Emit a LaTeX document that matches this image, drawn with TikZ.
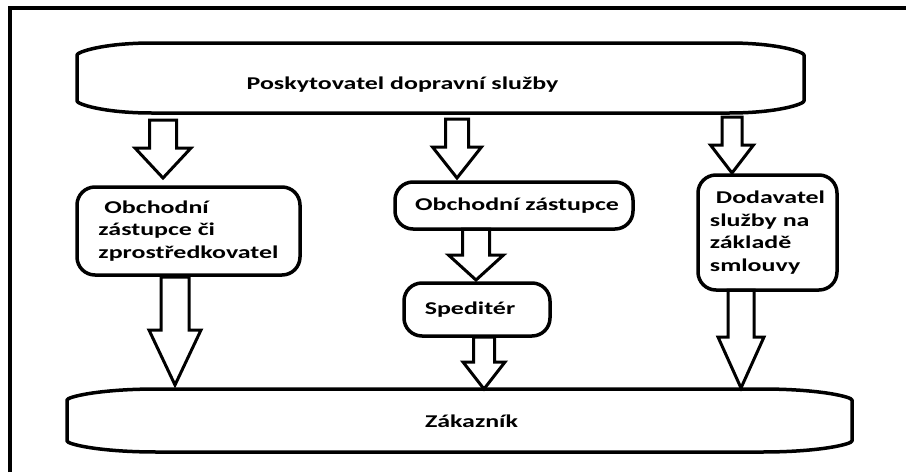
\documentclass[tikz,border=0pt]{standalone}
\usepackage{fontspec}
\setmainfont{Carlito}[FakeStretch=1.44]
\usetikzlibrary{calc}
\tikzset{
  boxline/.style={draw=black, line width=3.5pt, line join=round},
  rbox/.style={boxline, rounded corners=18pt, inner sep=0pt, outer sep=0pt, align=left},
  bowbox/.style={inner sep=0pt, outer sep=0pt},
  lbl/.style={inner sep=0pt, font=\diafont},
  barrow/.style n args={3}{draw=black, line width=3pt, line join=miter,
    to path={let \p1=(\tikztostart), \p2=(\tikztotarget) in
      ({\x1-#1pt},\y1) -- ({\x1-#1pt},{\y2+#3pt}) -- ({\x1-#2pt},{\y2+#3pt}) -- (\x2,\y2)
      -- ({\x1+#2pt},{\y2+#3pt}) -- ({\x1+#1pt},{\y2+#3pt}) -- ({\x1+#1pt},\y1) -- cycle}},
}
\newcommand\diafont{\bfseries\fontsize{18}{22.5}\selectfont}
\newcommand\bowoutline[3]{%
  \draw[boxline] let \p1=(#1.north west), \p2=(#1.south east) in
    (\x1,{\y1-#2pt-3pt}) -- (\x1,{\y2+#2pt+3pt})
    .. controls (\x1,{\y2+#2pt}) and ({\x1+0.35*#3pt},\y2) .. ({\x1+#3pt},\y2)
    -- ({\x2-#3pt},\y2)
    .. controls ({\x2-0.35*#3pt},\y2) and (\x2,{\y2+#2pt}) .. (\x2,{\y2+#2pt+3pt})
    -- (\x2,{\y1-#2pt-3pt})
    .. controls (\x2,{\y1-#2pt}) and ({\x2-0.35*#3pt},\y1) .. ({\x2-#3pt},\y1)
    -- ({\x1+#3pt},\y1)
    .. controls ({\x1+0.35*#3pt},\y1) and (\x1,{\y1-#2pt}) .. (\x1,{\y1-#2pt-3pt}) -- cycle;}
\begin{document}
\begin{tikzpicture}[x=1pt, y=-1pt, font=\diafont]
\useasboundingbox (0,0) rectangle (906,472);
% outer frame (only top and left edges visible)
\draw[line width=4.5pt, line join=miter] (10,472) -- (10,8) -- (906,8);

% top and bottom bowed boxes
\node[bowbox, minimum width=727pt, minimum height=70pt] (b0) at (440.5,78) {};
\bowoutline{b0}{9}{75}
\node[lbl] (t0) at ($(b0.center)+(-38,7)$) {Poskytovatel dopravní služby};

\node[bowbox, minimum width=785pt, minimum height=63pt] (b5) at (459.5,420.5) {};
\bowoutline{b5}{8}{90}
\node[lbl] (t5) at ($(b5.center)+(12,1)$) {Zákazník};

% rounded boxes
\node[rbox, minimum width=223pt, minimum height=88pt] (b1) at (188.5,231)
  {\hspace*{6pt}Obchodní\\zástupce či\\zprostředkovatel};
\node[rbox, minimum width=238pt, minimum height=47pt] (b2) at (514,205.5)
  {\hspace*{6pt}Obchodní zástupce};
\node[rbox, minimum width=146pt, minimum height=53pt] (b3) at (477,309.5)
  {Speditér\hspace*{14pt}};
\node[rbox, minimum width=139pt, minimum height=115pt] (b4) at (767.5,232.5)
  {\hspace*{6pt}Dodavatel\\služby na\\základě\\smlouvy};

% block arrows
\draw[barrow={13.5}{28}{30}] ($(b0.south -| 163,0)+(0,7)$) to ($(b1.north -| 163,0)+(0,-9)$);
\draw[barrow={14}{26}{55}] ($(b1.south -| 175,0)+(0,2)$) to ($(b5.north -| 175,0)+(0,-4)$);
\draw[barrow={11.5}{24.5}{31}] ($(b0.south -| 457,0)+(0,6)$) to ($(b2.north -| 457,0)+(0,-4)$);
\draw[barrow={13.5}{27.5}{25}] ($(b2.south -| 476,0)+(0,0)$) to ($(b3.north -| 476,0)+(0,-3)$);
\draw[barrow={10.5}{21}{27}] ($(b3.south -| 484,0)+(0,1)$) to ($(b5.north -| 484,0)+(0,0)$);
\draw[barrow={10}{21.5}{28}] ($(b0.south -| 732,0)+(0,4)$) to ($(b4.north -| 732,0)+(0,-2)$);
\draw[barrow={13}{23}{51}] ($(b4.south -| 741,0)+(0,0)$) to ($(b5.north -| 741,0)+(0,-1)$);
\end{tikzpicture}
\end{document}
